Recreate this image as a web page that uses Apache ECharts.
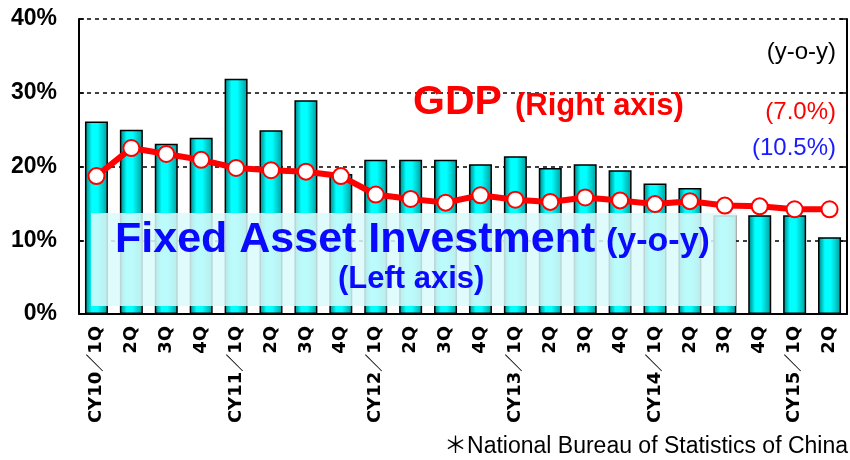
<!DOCTYPE html>
<html>
<head>
<meta charset="utf-8">
<script src="https://cdn.jsdelivr.net/npm/echarts@6/dist/echarts.min.js"></script>
<style>
html,body{margin:0;padding:0;background:#fff;}
#main{width:850px;height:460px;}
</style>
</head>
<body>
<div id="main"></div>
<script>
// quarters, CY10/1Q .. CY15/2Q
var quarters = ['CY10／1Q','2Q','3Q','4Q','CY11／1Q','2Q','3Q','4Q','CY12／1Q','2Q','3Q','4Q',
                'CY13／1Q','2Q','3Q','4Q','CY14／1Q','2Q','3Q','4Q','CY15／1Q','2Q'];
// fixed asset investment, y-o-y % (left axis)
var fai = [26.1,25.0,23.1,23.9,31.9,24.9,29.0,19.0,20.9,20.9,20.9,20.3,
           21.4,19.8,20.3,19.5,17.7,17.1,13.4,13.4,13.4,10.4];
// GDP, y-o-y % (right axis)
var gdp = [9.35,11.25,10.85,10.45,9.9,9.75,9.65,9.35,8.1,7.8,7.55,8.05,
           7.75,7.6,7.9,7.7,7.45,7.65,7.35,7.3,7.1,7.1];
var leftTicks = [0,40,10];
var rightTicks = [0,20,5];

var FONT = '"Liberation Sans", Arial, sans-serif';
var RED = '#ff0000', BLUE = '#0a0aff';

var myChart = echarts.init(document.getElementById('main'), null, {renderer:'canvas'});

var barFill = new echarts.graphic.LinearGradient(0,0,1,0,[
    {offset:0, color:'#007b7b'},
    {offset:0.3, color:'#00ffff'},
    {offset:0.55, color:'#00ffff'},
    {offset:1, color:'#009a9a'}
]);

function txt(text, x, y, size, color, bold, align, shadow){
    var st = {
        text:text, x:x, y:y, fill:color,
        font:(bold?'bold ':'')+size+'px '+FONT,
        textAlign:align||'left', textVerticalAlign:'middle'
    };
    if (shadow) {
        st.shadowColor = 'rgba(0,0,0,0.4)';
        st.shadowOffsetX = 3; st.shadowOffsetY = 3; st.shadowBlur = 3;
    }
    return {type:'text', z:20, style:st};
}

option = {
    animation:false,
    grid:{left:79, right:3, top:19, bottom:146},
    xAxis:{
        type:'category',
        data:quarters,
        axisLine:{lineStyle:{color:'#000', width:2}},
        axisTick:{inside:true, length:5, lineStyle:{color:'#000', width:1.5}},
        axisLabel:{
            rotate:90, margin:12, interval:0,
            color:'#000', fontWeight:'bold', fontSize:18,
            fontFamily:'"DejaVu Sans", "Noto Sans CJK JP", sans-serif'
        }
    },
    yAxis:[{
        type:'value',
        min:leftTicks[0], max:leftTicks[1], interval:leftTicks[2],
        axisLine:{show:true, lineStyle:{color:'#000', width:2}},
        axisTick:{show:true, inside:true, length:5, lineStyle:{color:'#000', width:1.5}},
        axisLabel:{formatter:'{value}%', color:'#000', fontWeight:'bold', fontSize:23, fontFamily:FONT, margin:22},
        splitLine:{show:true, lineStyle:{color:'#000', type:[4,4], width:1.5}}
    },{
        type:'value',
        min:rightTicks[0], max:rightTicks[1], interval:rightTicks[2],
        axisLine:{show:true, lineStyle:{color:'#000', width:2}},
        axisTick:{show:true, inside:true, length:7, lineStyle:{color:'#000', width:1.5}},
        axisLabel:{show:false},
        splitLine:{show:false}
    }],
    series:[{
        name:'Fixed Asset Investment',
        type:'bar',
        data:fai,
        barWidth:23,
        z:1,
        itemStyle:{color:barFill, borderColor:'#000', borderWidth:1.5}
    },{
        name:'GDP',
        type:'line',
        yAxisIndex:1,
        data:gdp,
        z:5,
        symbol:'circle',
        symbolSize:16,
        lineStyle:{color:RED, width:6},
        itemStyle:{color:'#fff', borderColor:RED, borderWidth:2}
    }],
    graphic:[
        {type:'rect', z:3, shape:{x:91, y:213, width:645, height:93},
         style:{fill:'rgba(218,250,250,0.86)'}},
        txt('Fixed Asset Investment', 115, 240, 43, BLUE, true, 'left', true),
        txt('(y-o-y)', 606, 242, 34, BLUE, true, 'left', true),
        txt('(Left axis)', 338, 279, 31, BLUE, true, 'left', true),
        txt('GDP', 413, 103, 41, RED, true, 'left'),
        txt('(Right axis)', 515, 106, 31, RED, true, 'left'),
        txt('(y-o-y)', 836, 52, 24, '#000', false, 'right'),
        txt('(7.0%)', 836, 112, 24, RED, false, 'right'),
        txt('(10.5%)', 836, 148, 24, '#1a1aff', false, 'right'),
        {type:'text', z:20, style:{
            text:'＊National Bureau of Statistics of China', x:848, y:447,
            fill:'#000', font:'23px '+FONT+', "Noto Sans CJK JP"',
            textAlign:'right', textVerticalAlign:'middle'}}
    ]
};

myChart.setOption(option);
</script>
</body>
</html>
